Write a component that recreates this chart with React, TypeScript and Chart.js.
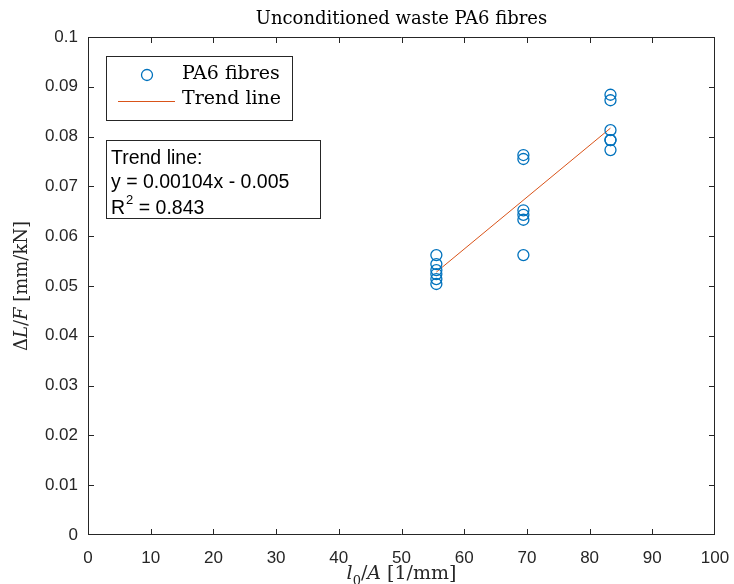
import React, { useEffect, useRef } from "react";
import { Chart, registerables } from "chart.js";

Chart.register(...registerables);

const chartTitle = "Unconditioned waste PA6 fibres";
// axis titles as [text, style] runs: "i" italic, "r" roman, "s" subscript
const xAxisTitleRuns: [string, string][] = [["l", "i"], ["0", "s"], ["/", "r"], ["A", "i"], [" [1/mm]", "r"]];
const yAxisTitleRuns: [string, string][] = [["\u0394", "r"], ["L", "i"], ["/", "r"], ["F", "i"], [" [mm/kN]", "r"]];

const xTickValues = [0, 10, 20, 30, 40, 50, 60, 70, 80, 90, 100];
const xTickLabels = ["0", "10", "20", "30", "40", "50", "60", "70", "80", "90", "100"];
const yTickValues = [0, 0.01, 0.02, 0.03, 0.04, 0.05, 0.06, 0.07, 0.08, 0.09, 0.1];
const yTickLabels = ["0", "0.01", "0.02", "0.03", "0.04", "0.05", "0.06", "0.07", "0.08", "0.09", "0.1"];

const fibreX = [
  55.56, 55.56, 55.56, 55.56, 55.56, 55.56,
  69.44, 69.44, 69.44, 69.44, 69.44, 69.44,
  83.33, 83.33, 83.33, 83.33, 83.33, 83.33,
];
const fibreY = [
  0.0562, 0.0544, 0.0532, 0.0524, 0.0514, 0.0504,
  0.0763, 0.0755, 0.0652, 0.0643, 0.0633, 0.0562,
  0.0884, 0.0873, 0.0813, 0.0793, 0.0793, 0.0773,
];
const trendX = [55.56, 83.33];
const trendY = [0.0528, 0.0817];

const seriesLabels = ["PA6 fibres", "Trend line"];
const annotationLines = ["Trend line:", "y = 0.00104x - 0.005", "R", "2", " = 0.843"];

const BLUE = "#0072BD";
const ORANGE = "#D95319";
const AXIS = "#262626";
const SERIF = "'DejaVu Serif', serif";
const SANS = "'Liberation Sans', Arial, sans-serif";

function drawRuns(ctx: any, runs: [string, string][], size: number) {
  const fontFor = (st: string) =>
    st === "i" ? `italic ${size}px ${SERIF}` : st === "s" ? `${Math.round(size * 0.7)}px ${SERIF}` : `${size}px ${SERIF}`;
  let total = 0;
  const widths = runs.map(([t, st]) => {
    ctx.font = fontFor(st);
    const w = ctx.measureText(t).width;
    total += w;
    return w;
  });
  let x = -total / 2;
  runs.forEach(([t, st], i) => {
    ctx.font = fontFor(st);
    ctx.fillText(t, x, st === "s" ? size * 0.3 : 0);
    x += widths[i];
  });
}

const boxPlugin = {
  id: "matlabBox",
  afterDatasetsDraw(chart: any) {
    const { ctx, chartArea: a, scales } = chart;
    const xs = scales.x;
    const ys = scales.y;
    ctx.save();
    ctx.strokeStyle = AXIS;
    ctx.lineWidth = 1;
    ctx.beginPath();
    ctx.rect(a.left + 0.5, a.top + 0.5, a.right - a.left - 1, a.bottom - a.top - 1);
    ctx.stroke();
    const tl = 6;
    ctx.beginPath();
    xTickValues.forEach((v) => {
      const px = Math.min(Math.max(Math.round(xs.getPixelForValue(v)) + 0.5, a.left + 0.5), a.right - 0.5);
      ctx.moveTo(px, a.bottom);
      ctx.lineTo(px, a.bottom - tl);
      ctx.moveTo(px, a.top);
      ctx.lineTo(px, a.top + tl);
    });
    yTickValues.forEach((v) => {
      const py = Math.min(Math.max(Math.round(ys.getPixelForValue(v)) + 0.5, a.top + 0.5), a.bottom - 0.5);
      ctx.moveTo(a.left, py);
      ctx.lineTo(a.left + tl, py);
      ctx.moveTo(a.right, py);
      ctx.lineTo(a.right - tl, py);
    });
    ctx.stroke();
    ctx.restore();
  },
  afterDraw(chart: any) {
    const { ctx, chartArea: a } = chart;
    ctx.save();
    // axis titles
    ctx.fillStyle = AXIS;
    ctx.textBaseline = "alphabetic";
    ctx.textAlign = "left";
    ctx.save();
    ctx.translate((a.left + a.right) / 2, 579);
    drawRuns(ctx, xAxisTitleRuns, 19);
    ctx.restore();
    ctx.save();
    ctx.translate(27, (a.top + a.bottom) / 2);
    ctx.rotate(-Math.PI / 2);
    drawRuns(ctx, yAxisTitleRuns, 18);
    ctx.restore();
    // legend
    ctx.fillStyle = "#ffffff";
    ctx.fillRect(106, 56, 186, 64);
    ctx.strokeStyle = AXIS;
    ctx.lineWidth = 1;
    ctx.strokeRect(106.5, 56.5, 186, 64);
    ctx.strokeStyle = BLUE;
    ctx.lineWidth = 1.3;
    ctx.beginPath();
    ctx.arc(147, 75, 5.5, 0, Math.PI * 2);
    ctx.stroke();
    ctx.strokeStyle = ORANGE;
    ctx.lineWidth = 1;
    ctx.beginPath();
    ctx.moveTo(118, 101.5);
    ctx.lineTo(175, 101.5);
    ctx.stroke();
    ctx.fillStyle = "#000000";
    ctx.font = `19px ${SERIF}`;
    ctx.fillText(seriesLabels[0], 182, 79);
    ctx.fillText(seriesLabels[1], 182, 104);
    // annotation box
    ctx.fillStyle = "#ffffff";
    ctx.fillRect(106, 140, 214, 78);
    ctx.strokeStyle = AXIS;
    ctx.strokeRect(106.5, 140.5, 214, 78);
    ctx.fillStyle = "#000000";
    ctx.font = `19.5px ${SANS}`;
    ctx.fillText(annotationLines[0], 111, 164);
    ctx.fillText(annotationLines[1], 111, 188);
    ctx.fillText(annotationLines[2], 111, 214);
    const rw = ctx.measureText(annotationLines[2]).width;
    ctx.font = `13px ${SANS}`;
    ctx.fillText(annotationLines[3], 111 + rw + 1, 204);
    const sw = ctx.measureText(annotationLines[3]).width;
    ctx.font = `19.5px ${SANS}`;
    ctx.fillText(annotationLines[4], 111 + rw + 1 + sw, 214);
    ctx.restore();
  },
};

export default function App() {
  const ref = useRef<HTMLCanvasElement | null>(null);
  useEffect(() => {
    if (!ref.current) return;
    const chart = new Chart(ref.current, {
      type: "scatter",
      data: {
        datasets: [
          {
            label: seriesLabels[0],
            data: fibreX.map((x, i) => ({ x, y: fibreY[i] })),
            pointStyle: "circle",
            pointRadius: 5.5,
            pointBorderWidth: 1.3,
            borderColor: BLUE,
            backgroundColor: "rgba(0,0,0,0)",
            showLine: false,
          },
          {
            label: seriesLabels[1],
            data: trendX.map((x, i) => ({ x, y: trendY[i] })),
            showLine: true,
            pointRadius: 0,
            borderColor: ORANGE,
            borderWidth: 1,
            backgroundColor: ORANGE,
          },
        ],
      },
      options: {
        responsive: false,
        animation: false,
        layout: { padding: { top: 0, right: 19, bottom: 0, left: 0 } },
        plugins: {
          legend: { display: false },
          tooltip: { enabled: false },
          title: {
            display: true,
            text: chartTitle,
            fullSize: false,
            color: "#000000",
            font: { family: SERIF, size: 18, weight: "normal", lineHeight: 1 },
            padding: { top: 10, bottom: 9 },
          },
        },
        scales: {
          x: {
            type: "linear",
            min: 0,
            max: 100,
            afterFit: (s: any) => {
              s.height = 49;
              s.paddingLeft = 0;
              s.paddingRight = 0;
            },
            afterBuildTicks: (s: any) => { s.ticks = xTickValues.map((v) => ({ value: v })); },
            ticks: {
              color: AXIS,
              font: { family: SANS, size: 17 },
              padding: 13,
              maxRotation: 0,
              callback: (v: any) => xTickLabels[xTickValues.indexOf(Number(v))] ?? "",
            },
            grid: { display: false, drawTicks: false },
            border: { display: false },
            title: { display: false },
          },
          y: {
            type: "linear",
            min: 0,
            max: 0.1,
            afterFit: (s: any) => {
              s.width = 88;
              s.paddingTop = 0;
              s.paddingBottom = 0;
            },
            afterBuildTicks: (s: any) => { s.ticks = yTickValues.map((v) => ({ value: v })); },
            ticks: {
              color: AXIS,
              font: { family: SANS, size: 17 },
              padding: 10,
              callback: (v: any) => {
                const i = yTickValues.findIndex((t) => Math.abs(t - Number(v)) < 1e-9);
                return i >= 0 ? yTickLabels[i] : "";
              },
            },
            grid: { display: false, drawTicks: false },
            border: { display: false },
            title: { display: false },
          },
        },
      },
      plugins: [boxPlugin],
    });
    return () => chart.destroy();
  }, []);
  return (
    <div style={{ position: "absolute", left: 0, top: 0, width: 734, height: 584, background: "#fff" }}>
      <canvas ref={ref} width={734} height={584} style={{ display: "block" }} />
    </div>
  );
}
